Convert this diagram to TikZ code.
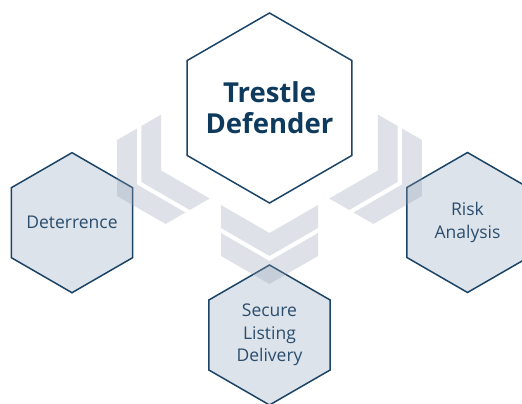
\documentclass[tikz,border=0pt]{standalone}
\usepackage{fontspec}
\setmainfont{Open Sans}
\usepackage{xcolor}
\usetikzlibrary{shapes.geometric}
\definecolor{hexline}{HTML}{1C4466}
\definecolor{hexfill}{HTML}{DDE3EA}
\definecolor{bigtext}{HTML}{0E3A5D}
\definecolor{smalltext}{HTML}{2A4D6E}
\definecolor{chev}{RGB}{145,160,180}

\begin{document}
\begin{tikzpicture}[x=1pt,y=1pt,
    hexa/.style={regular polygon, regular polygon sides=6, shape border rotate=30,
                 draw=hexline, line width=1.5pt, inner sep=0pt},
    bighex/.style={hexa, minimum size=190pt, fill=white},
    smallhex/.style={hexa, minimum size=140pt, fill=hexfill},
    biglabel/.style={align=center, text=bigtext, font=\fontsize{27.5}{31}\selectfont\bfseries},
    smalllabel/.style={align=center, text=smalltext, font=\fontsize{17.5}{22.5}\selectfont},
    chevron/.style={fill=chev, fill opacity=0.3}]
    \clip (0,0) rectangle (522,404);
    \useasboundingbox (0,0) rectangle (522,404);
    \node[bighex]   (t) at (269.5, 296.0) {};
    \node[smallhex] (d) at ( 72.0, 181.3) {};
    \node[smallhex] (r) at (467.5, 181.5) {};
    \node[smallhex] (s) at (269.5,  69.0) {};
    \node[biglabel]   (tl) at (t) {Trestle\\Defender};
    \node[smalllabel] (dl) at (d) {Deterrence};
    \node[smalllabel] (rl) at (r) {Risk\\Analysis};
    \node[smalllabel] (sl) at (s) {Secure\\Listing\\Delivery};
    % chevrons below Trestle Defender
    \fill[chevron] (221,199) -- (269.5,171) -- (318,199) -- (318,176) -- (269.5,148) -- (221,176) -- cycle;
    \fill[chevron] (221,171) -- (269.5,143) -- (318,171) -- (318,148) -- (269.5,120) -- (221,148) -- cycle;
    % towards Deterrence
    \begin{scope}[rotate around={-60:(269.5,296)}]
      \fill[chevron] (221,199) -- (269.5,171) -- (318,199) -- (318,176) -- (269.5,148) -- (221,176) -- cycle;
      \fill[chevron] (221,171) -- (269.5,143) -- (318,171) -- (318,148) -- (269.5,120) -- (221,148) -- cycle;
    \end{scope}
    % towards Risk Analysis
    \begin{scope}[rotate around={60:(269.5,296)}]
      \fill[chevron] (221,199) -- (269.5,171) -- (318,199) -- (318,176) -- (269.5,148) -- (221,176) -- cycle;
      \fill[chevron] (221,171) -- (269.5,143) -- (318,171) -- (318,148) -- (269.5,120) -- (221,148) -- cycle;
    \end{scope}
  \end{tikzpicture}
\end{document}
